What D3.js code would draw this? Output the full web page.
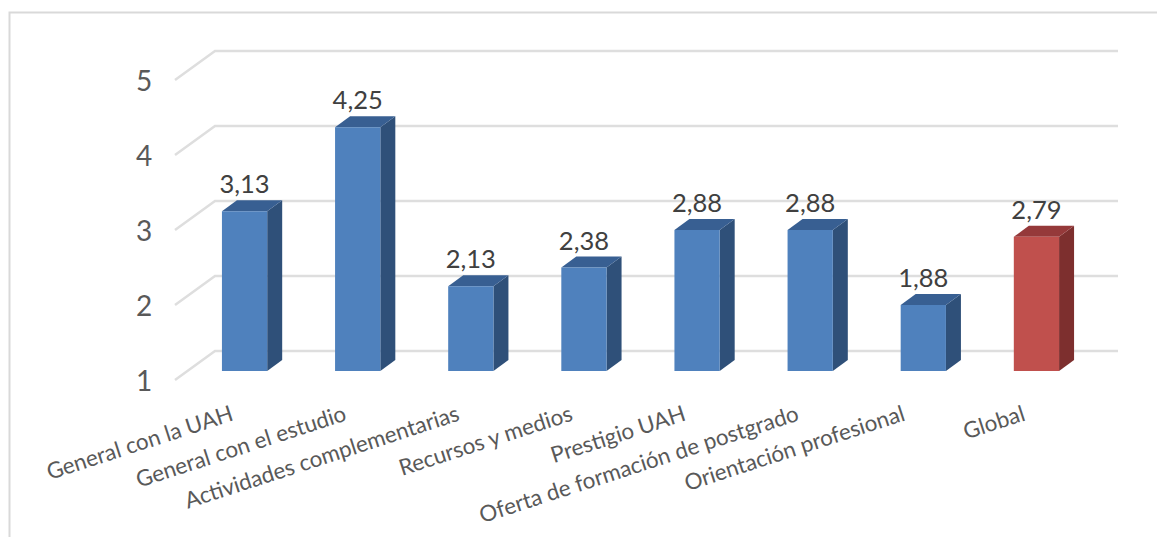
<!DOCTYPE html>
<html>
<head>
<meta charset="utf-8">
<script src="https://cdn.jsdelivr.net/npm/d3@7"></script>
<style>
  html, body { margin: 0; padding: 0; background: #fff; }
  svg { display: block; }
  text { font-family: Lato, "Open Sans", sans-serif; }
</style>
</head>
<body>
<div id="chart"></div>
<script>
var categories = ["General con la UAH", "General con el estudio", "Actividades complementarias",
  "Recursos y medios", "Prestigio UAH", "Oferta de formación de postgrado",
  "Orientación profesional", "Global"];
var values = [3.13, 4.25, 2.13, 2.38, 2.88, 2.88, 1.88, 2.79];
var valueLabels = ["3,13", "4,25", "2,13", "2,38", "2,88", "2,88", "1,88", "2,79"];
var yTicks = [1, 2, 3, 4, 5];

var width = 1157, height = 537;

var svg = d3.select("#chart").append("svg")
    .attr("width", width)
    .attr("height", height);

// frame of the picture, only left and top are inside the crop
svg.append("path")
    .attr("d", "M9.5,537V12.5H1157")
    .attr("fill", "none")
    .attr("stroke", "#d9d9d9")
    .attr("stroke-width", 2);

var x = d3.scaleBand().domain(categories).range([188, 1093]).paddingInner(0.6).paddingOuter(0.3);
var y = d3.scaleLinear().domain([1, 5]).range([371, 71]);

// the axis sits on the front of the floor, the walls are behind the bars
var front = { dx: -13, dy: 9 },
    wall = { dx: 27, dy: -20 },
    depth = { dx: 15, dy: -11 },
    wallRight = 1118;

var grid = svg.append("g").attr("class", "grid");
grid.selectAll("path").data(yTicks).enter().append("path")
    .attr("fill", "none")
    .attr("stroke", "#dedede")
    .attr("stroke-width", 2.5)
    .attr("d", function(d) {
      var x0 = x.range()[0];
      return "M" + (x0 + front.dx) + "," + (y(d) + front.dy) +
             "L" + (x0 + wall.dx) + "," + (y(d) + wall.dy) +
             "H" + wallRight;
    });

var axis = svg.append("g")
    .attr("transform", "translate(" + (x.range()[0] + front.dx - 31) + "," + (front.dy + 2) + ")")
    .call(d3.axisLeft(y).tickValues(yTicks).tickFormat(d3.format("d")).tickSize(0).tickPadding(0));
axis.select(".domain").remove();
axis.selectAll("text")
    .attr("text-anchor", "middle")
    .attr("font-size", 28)
    .attr("fill", "#595959");

var bars = svg.append("g").selectAll("g")
    .data(categories).enter().append("g");

function barColor(i) {
  return i == categories.length - 1
    ? { front: "#c0504d", top: "#95393a", side: "#7d2f2e" }
    : { front: "#4f81bd", top: "#385f92", side: "#2f5079" };
}

bars.append("polygon")
    .attr("fill", function(d, i) { return barColor(i).side; })
    .attr("points", function(d, i) {
      var r = x(d) + x.bandwidth(), t = y(values[i]), b = y(1);
      return [[r, t], [r + depth.dx, t + depth.dy], [r + depth.dx, b + depth.dy], [r, b]].join(" ");
    });

bars.append("polygon")
    .attr("fill", function(d, i) { return barColor(i).top; })
    .attr("points", function(d, i) {
      var l = x(d), r = l + x.bandwidth(), t = y(values[i]);
      return [[l, t], [l + depth.dx, t + depth.dy], [r + depth.dx, t + depth.dy], [r, t]].join(" ");
    });

bars.append("rect")
    .attr("fill", function(d, i) { return barColor(i).front; })
    .attr("x", function(d) { return x(d); })
    .attr("y", function(d, i) { return y(values[i]); })
    .attr("width", x.bandwidth())
    .attr("height", function(d, i) { return y(1) - y(values[i]); });

bars.append("text")
    .attr("x", function(d) { return x(d) + x.bandwidth() / 2; })
    .attr("y", function(d, i) { return y(values[i]) - 18; })
    .attr("text-anchor", "middle")
    .attr("font-size", 25.5)
    .attr("fill", "#404040")
    .text(function(d, i) { return valueLabels[i]; });

// slanted category labels, anchored at their right end
svg.append("g").selectAll("text")
    .data(categories).enter().append("text")
    .attr("text-anchor", "end")
    .attr("font-size", 22.4)
    .attr("fill", "#595959")
    .attr("transform", function(d) {
      // this one sits further left in the original
      var nudge = d == "Orientación profesional" ? -7 : 0;
      return "translate(" + (x(d) + x.bandwidth() / 2 - 10 + nudge) + ",420) rotate(-18)";
    })
    .text(function(d) { return d; });
</script>
</body>
</html>
